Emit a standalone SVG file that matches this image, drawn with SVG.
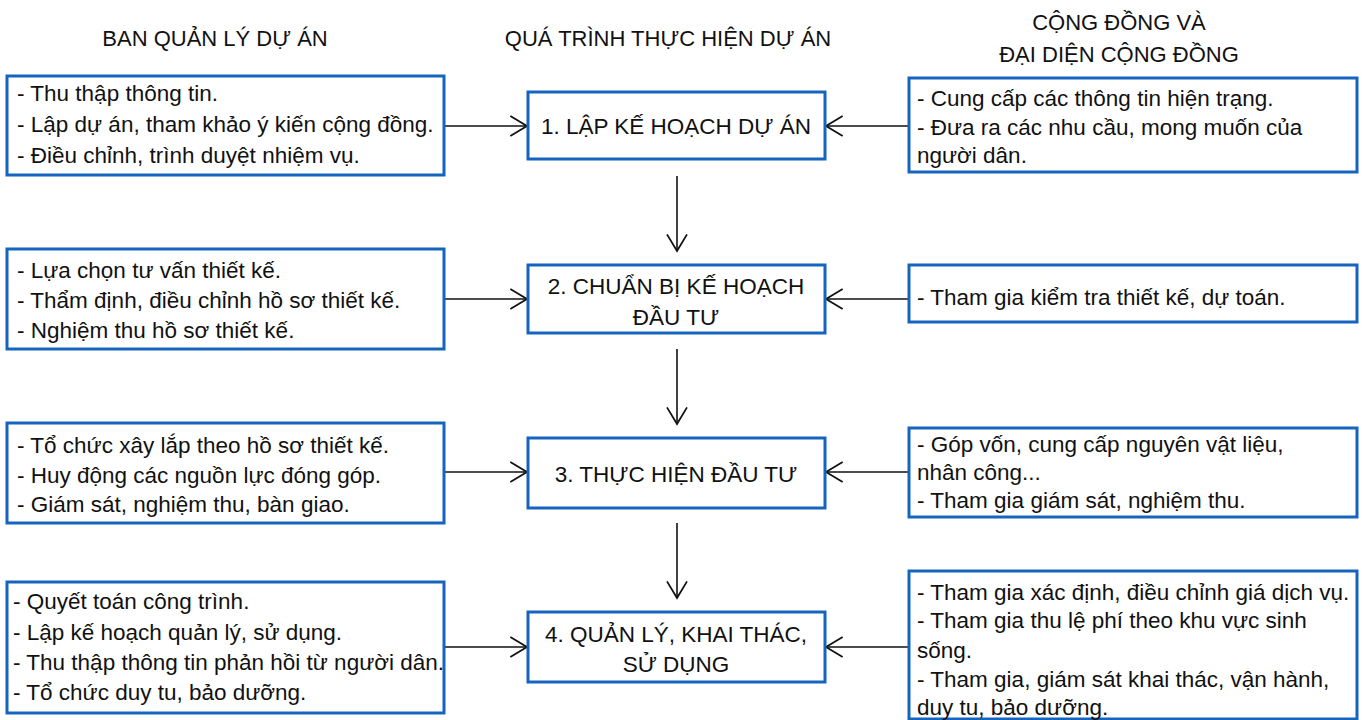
<svg xmlns="http://www.w3.org/2000/svg" width="1368" height="720" viewBox="0 0 1368 720">
  <style>
    .box { fill: #ffffff; stroke: #1565c0; stroke-width: 3; }
    .txt { font-family: "Liberation Sans", Arial, sans-serif; font-size: 22.5px; fill: #111111; }
    .hdr { font-size: 22px; }
    .mid { text-anchor: middle; }
    .conn { stroke: #111111; stroke-width: 1.6; fill: none; marker-end: url(#arrow); }
  </style>
  <defs>
    <marker id="arrow" markerUnits="userSpaceOnUse" markerWidth="20" markerHeight="24" viewBox="-16 -10 18 20" refX="0" refY="0" orient="auto">
      <path d="M-15,-9 L0,0 L-15,9" fill="none" stroke="#111111" stroke-width="1.6"/>
    </marker>
  </defs>
  <rect width="1368" height="720" fill="#ffffff"/>

  <!-- column headers -->
  <g id="headers">
    <text class="txt hdr mid" x="215" y="46">BAN QUẢN LÝ DỰ ÁN</text>
    <text class="txt hdr mid" x="668" y="46">QUÁ TRÌNH THỰC HIỆN DỰ ÁN</text>
    <text class="txt hdr mid" x="1119" y="30">CỘNG ĐỒNG VÀ</text>
    <text class="txt hdr mid" x="1119" y="62">ĐẠI DIỆN CỘNG ĐỒNG</text>
  </g>

  <!-- connectors -->
  <g id="connectors">
    <line class="conn" x1="444" y1="126" x2="527" y2="126"/>
    <line class="conn" x1="909" y1="126" x2="826" y2="126"/>
    <line class="conn" x1="677" y1="176" x2="677" y2="251"/>
    <line class="conn" x1="444" y1="299" x2="527" y2="299"/>
    <line class="conn" x1="909" y1="299" x2="826" y2="299"/>
    <line class="conn" x1="677" y1="349" x2="677" y2="424"/>
    <line class="conn" x1="444" y1="472" x2="527" y2="472"/>
    <line class="conn" x1="909" y1="472" x2="826" y2="472"/>
    <line class="conn" x1="677" y1="523" x2="677" y2="598"/>
    <line class="conn" x1="444" y1="647" x2="527" y2="647"/>
    <line class="conn" x1="909" y1="647" x2="826" y2="647"/>
  </g>

  <!-- management board column -->
  <g id="ban-1">
    <rect class="box" x="7" y="76" width="437" height="99"/>
    <text class="txt" x="17" y="101">- Thu thập thông tin.</text>
    <text class="txt" x="17" y="132">- Lập dự án, tham khảo ý kiến cộng đồng.</text>
    <text class="txt" x="17" y="163">- Điều chỉnh, trình duyệt nhiệm vụ.</text>
  </g>
  <g id="ban-2">
    <rect class="box" x="7" y="249" width="437" height="100"/>
    <text class="txt" x="17" y="278">- Lựa chọn tư vấn thiết kế.</text>
    <text class="txt" x="17" y="308">- Thẩm định, điều chỉnh hồ sơ thiết kế.</text>
    <text class="txt" x="17" y="338">- Nghiệm thu hồ sơ thiết kế.</text>
  </g>
  <g id="ban-3">
    <rect class="box" x="7" y="423" width="437" height="100"/>
    <text class="txt" x="17" y="453">- Tổ chức xây lắp theo hồ sơ thiết kế.</text>
    <text class="txt" x="17" y="483">- Huy động các nguồn lực đóng góp.</text>
    <text class="txt" x="17" y="512">- Giám sát, nghiệm thu, bàn giao.</text>
  </g>
  <g id="ban-4">
    <rect class="box" x="7" y="582" width="437" height="131"/>
    <text class="txt" x="13" y="609">- Quyết toán công trình.</text>
    <text class="txt" x="13" y="640">- Lập kế hoạch quản lý, sử dụng.</text>
    <text class="txt" x="13" y="670">- Thu thập thông tin phản hồi từ người dân.</text>
    <text class="txt" x="13" y="700">- Tổ chức duy tu, bảo dưỡng.</text>
  </g>

  <!-- process column -->
  <g id="step-1">
    <rect class="box" x="528" y="92" width="297" height="67"/>
    <text class="txt mid" x="676" y="134">1. LẬP KẾ HOẠCH DỰ ÁN</text>
  </g>
  <g id="step-2">
    <rect class="box" x="528" y="265" width="297" height="68"/>
    <text class="txt mid" x="676" y="294">2. CHUẨN BỊ KẾ HOẠCH</text>
    <text class="txt mid" x="676" y="325">ĐẦU TƯ</text>
  </g>
  <g id="step-3">
    <rect class="box" x="528" y="438" width="297" height="70"/>
    <text class="txt mid" x="676" y="482">3. THỰC HIỆN ĐẦU TƯ</text>
  </g>
  <g id="step-4">
    <rect class="box" x="528" y="612" width="297" height="70"/>
    <text class="txt mid" x="676" y="642">4. QUẢN LÝ, KHAI THÁC,</text>
    <text class="txt mid" x="676" y="672">SỬ DỤNG</text>
  </g>

  <!-- community column -->
  <g id="community-1">
    <rect class="box" x="909" y="78" width="448" height="94"/>
    <text class="txt" x="917" y="106">- Cung cấp các thông tin hiện trạng.</text>
    <text class="txt" x="917" y="135">- Đưa ra các nhu cầu, mong muốn của</text>
    <text class="txt" x="917" y="163">người dân.</text>
  </g>
  <g id="community-2">
    <rect class="box" x="909" y="265" width="448" height="57"/>
    <text class="txt" x="917" y="305">- Tham gia kiểm tra thiết kế, dự toán.</text>
  </g>
  <g id="community-3">
    <rect class="box" x="909" y="428" width="448" height="89"/>
    <text class="txt" x="917" y="452">- Góp vốn, cung cấp nguyên vật liệu,</text>
    <text class="txt" x="917" y="480">nhân công...</text>
    <text class="txt" x="917" y="508">- Tham gia giám sát, nghiệm thu.</text>
  </g>
  <g id="community-4">
    <rect class="box" x="909" y="571" width="448" height="148"/>
    <text class="txt" x="917" y="600">- Tham gia xác định, điều chỉnh giá dịch vụ.</text>
    <text class="txt" x="917" y="628">- Tham gia thu lệ phí theo khu vực sinh</text>
    <text class="txt" x="917" y="658">sống.</text>
    <text class="txt" x="917" y="687">- Tham gia, giám sát khai thác, vận hành,</text>
    <text class="txt" x="917" y="715">duy tu, bảo dưỡng.</text>
  </g>
</svg>
